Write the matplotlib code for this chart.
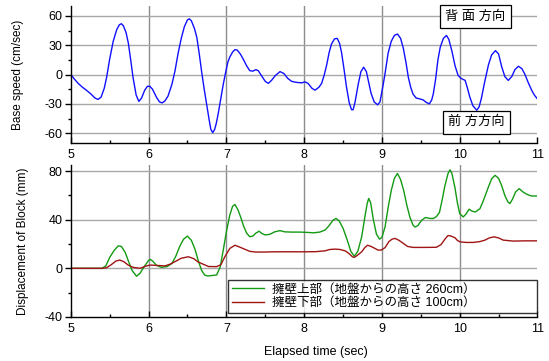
import numpy as np
import matplotlib
matplotlib.use("Agg")
import matplotlib.pyplot as plt
from matplotlib.ticker import MultipleLocator

plt.rcParams["font.family"] = ["Liberation Sans", "Noto Sans CJK JP"]
plt.rcParams["axes.unicode_minus"] = False

# base speed (top panel)
t_base = [5.00, 5.05, 5.094, 5.15, 5.20, 5.26, 5.31, 5.35, 5.39, 5.43, 5.46, 5.50, 5.545, 5.59,
          5.625, 5.65, 5.675, 5.71, 5.74, 5.77, 5.80, 5.84, 5.875, 5.91, 5.95, 5.985, 6.016,
          6.05, 6.10, 6.14, 6.175, 6.21, 6.25, 6.30, 6.34, 6.38, 6.42, 6.46, 6.50, 6.525, 6.55,
          6.59, 6.62, 6.65, 6.68, 6.715, 6.745, 6.78, 6.80, 6.825, 6.85, 6.87, 6.895, 6.93, 6.96,
          6.99, 7.02, 7.045, 7.08, 7.11, 7.14, 7.18, 7.215, 7.26, 7.30, 7.34, 7.38, 7.41, 7.45,
          7.50, 7.54, 7.58, 7.63, 7.69, 7.74, 7.79, 7.84, 7.90, 7.97, 8.01, 8.05, 8.10, 8.14,
          8.19, 8.225, 8.26, 8.29, 8.32, 8.35, 8.39, 8.425, 8.455, 8.48, 8.51, 8.545, 8.58, 8.61,
          8.63, 8.655, 8.695, 8.73, 8.765, 8.80, 8.83, 8.86, 8.90, 8.945, 8.975, 9.017, 9.04,
          9.08, 9.12, 9.16, 9.20, 9.24, 9.275, 9.31, 9.34, 9.37, 9.40, 9.44, 9.49, 9.53, 9.57,
          9.61, 9.64, 9.66, 9.69, 9.72, 9.75, 9.79, 9.83, 9.86, 9.90, 9.94, 9.98, 10.02, 10.07,
          10.10, 10.13, 10.17, 10.22, 10.25, 10.28, 10.32, 10.37, 10.41, 10.46, 10.50, 10.54,
          10.58, 10.625, 10.67, 10.71, 10.755, 10.80, 10.84, 10.88, 10.925, 10.96, 11.00]
v_base = [0, -5, -9, -13, -16, -20, -24, -25.5, -23, -14, -3, 16, 34, 46,
          51, 52, 50, 43, 32, 15, -3, -21, -27.5, -24, -16, -12, -12,
          -15, -23, -28, -29, -27, -22, -10, 4, 22, 37, 49, 56, 57, 55,
          47, 38, 22, 4, -15, -30, -47, -56, -59.5, -56, -50, -40, -24, -10,
          2, 13, 18, 23, 25.5, 25, 21, 16, 9, 4, 3.5, 5, 4, -1,
          -7, -9, -6, -1, 3, 1, -4, -7, -8, -8.5, -7.5, -9, -14, -16,
          -13, -9, 0, 10, 22, 31, 36.5, 37, 32, 23, 7, -13, -29, -36,
          -36, -28, -10, 3, 7.5, 3, -8, -19, -28, -31, -28, -10, 1,
          22, 34, 40, 41.5, 37, 27, 12, -3, -13, -20, -24, -25, -26, -28.5,
          -30, -26, -20, -5, 15, 28, 37, 40, 36, 24, 9, -1, -4, -6,
          -14, -23, -32, -36.5, -33, -24, -8, 10, 20, 24.5, 21, 8,
          -2, -6, -2, 5, 8.5, 6, 0, -8, -16, -21, -25]

# block displacement, upper part of the wall (260cm)
t_upper = [5.00, 5.40, 5.45, 5.50, 5.56, 5.61, 5.65, 5.70, 5.74, 5.79, 5.845, 5.89, 5.95, 6.00,
           6.025, 6.06, 6.10, 6.165, 6.24, 6.30, 6.35, 6.40, 6.45, 6.50, 6.55, 6.595, 6.64,
           6.68, 6.72, 6.76, 6.875, 6.92, 6.96, 7.00, 7.045, 7.08, 7.11, 7.15, 7.19, 7.22, 7.26,
           7.30, 7.34, 7.38, 7.42, 7.46, 7.50, 7.56, 7.62, 7.69, 7.75, 7.84, 7.95, 8.05, 8.12,
           8.20, 8.27, 8.32, 8.37, 8.41, 8.45, 8.50, 8.55, 8.60, 8.645, 8.69, 8.74, 8.78, 8.81,
           8.83, 8.855, 8.89, 8.93, 8.97, 9.00, 9.04, 9.08, 9.12, 9.16, 9.20, 9.24, 9.28, 9.32,
           9.36, 9.40, 9.425, 9.46, 9.51, 9.56, 9.62, 9.66, 9.70, 9.74, 9.78, 9.81, 9.85, 9.875,
           9.90, 9.94, 9.97, 10.00, 10.045, 10.08, 10.12, 10.16, 10.20, 10.26, 10.30, 10.37,
           10.41, 10.455, 10.50, 10.54, 10.58, 10.62, 10.646, 10.68, 10.72, 10.766, 10.81, 10.86,
           10.92, 11.00]
d_upper = [0, 0, 2, 9, 15, 18.5, 18, 13, 6, -2, -6.5, -4, 2, 6.5,
           7.3, 5.5, 2.5, 0.8, 1.5, 4, 10, 18, 24, 26.5, 23, 16, 6,
           -1.5, -5.5, -6.3, -5.5, 1, 15, 30, 44, 51, 52.5, 48, 41, 35, 29,
           26, 26.5, 29, 30.5, 28.5, 27.5, 28, 30, 31, 30, 29.8, 29.8, 29.5, 29.2,
           29.8, 31.5, 35, 39.5, 41, 39, 33, 24, 14, 10, 14, 26, 42, 53,
           57.5, 54, 40, 28, 24, 25.5, 34, 50, 64, 74, 78, 73, 64, 52,
           42, 35.5, 34, 35, 39.5, 41.8, 41, 41, 42.5, 46, 58, 68, 78, 81,
           78, 66, 54, 45, 42.3, 44.5, 48.6, 47, 46.3, 49, 55, 67,
           73.5, 76.5, 74, 68, 60, 54.5, 53.3, 57, 63, 65.5, 63, 61,
           59.5, 59.5]

# block displacement, lower part of the wall (100cm)
t_lower = [5.00, 5.40, 5.46, 5.52, 5.58, 5.63, 5.68, 5.737, 5.80, 5.89, 5.95, 6.016, 6.10, 6.21,
           6.28, 6.34, 6.42, 6.51, 6.58, 6.63, 6.68, 6.77, 6.875, 6.93, 6.98, 7.045, 7.11, 7.17,
           7.24, 7.30, 7.37, 7.50, 7.62, 7.80, 8.01, 8.15, 8.27, 8.33, 8.40, 8.46, 8.53, 8.58,
           8.62, 8.645, 8.68, 8.74, 8.78, 8.815, 8.86, 8.91, 8.95, 8.99, 9.04, 9.09, 9.13, 9.17,
           9.22, 9.275, 9.33, 9.40, 9.55, 9.70, 9.76, 9.81, 9.85, 9.89, 9.94, 9.97, 10.003, 10.08,
           10.175, 10.26, 10.325, 10.38, 10.44, 10.50, 10.56, 10.69, 10.85, 11.00]
d_lower = [0, 0, 0.5, 3, 6, 6.8, 5.5, 2.7, 0.8, 0, 1.5, 2.7, 2.4, 2,
           3.5, 5.5, 8.3, 9.5, 8, 5.5, 4, 1.5, 1.4, 3, 9.5, 16.4, 19, 17.5,
           15.6, 14, 13.4, 13.4, 13.6, 13.6, 13.6, 13.7, 14.4, 15.5, 15.8, 15.5, 14.3, 12,
           9.5, 9, 10.5, 13.6, 17, 19, 18, 16.4, 15, 15, 17, 22, 24, 24.6,
           23, 20.5, 18, 17.2, 17.2, 17.3, 19.5, 24, 27, 26.5, 25.1, 23, 21.8, 21.3,
           21.3, 22, 23.2, 25, 25.9, 25, 23.2, 22.4, 22.6, 22.6]

x_ticks = [5, 6, 7, 8, 9, 10, 11]
label_upper = "擁壁上部（地盤からの高さ 260cm）"
label_lower = "擁壁下部（地盤からの高さ 100cm）"

fig = plt.figure(figsize=(5.49, 3.61), dpi=100)
ax1 = fig.add_axes([0.129, 0.604, 0.850, 0.379])
ax2 = fig.add_axes([0.129, 0.122, 0.850, 0.421])


def style_axis(ax, ymaj, ymin):
    for side in ("top", "right"):
        ax.spines[side].set_visible(False)
    for side in ("left", "bottom"):
        ax.spines[side].set_linewidth(1.0)
    ax.set_xlim(5, 11)
    ax.set_xticks(x_ticks)
    ax.xaxis.set_minor_locator(MultipleLocator(0.5))
    ax.yaxis.set_major_locator(MultipleLocator(ymaj))
    ax.yaxis.set_minor_locator(MultipleLocator(ymin))
    ax.tick_params(axis="x", which="major", direction="in", length=4, width=1, pad=4, labelsize=9)
    ax.tick_params(axis="x", which="minor", direction="in", length=2.5, width=1)
    ax.tick_params(axis="y", which="major", direction="out", length=4, width=1, pad=2, labelsize=9)
    ax.tick_params(axis="y", which="minor", direction="out", length=2.5, width=1)
    for x in x_ticks[1:-1]:
        ax.axvline(x, color="#8c8c8c", lw=1.0, zorder=0)
    for y in ax.get_yticks():
        lo, hi = ax.get_ylim()
        if lo < y <= hi:
            ax.axhline(y, color="#a8a8a8", lw=1.0, zorder=0)


# top: base speed
ax1.set_ylim(-70, 70)
ax1.plot(t_base, v_base, color="#1010ff", lw=1.0)
style_axis(ax1, 30, 15)
ax1.set_ylabel("Base speed (cm/sec)", fontsize=8.5)
ax1.yaxis.set_label_coords(-0.10, 0.5)
box = dict(boxstyle="square,pad=0.4", fc="white", ec="black", lw=0.9)
ax1.text(10.2, 59.5, "背 面 方向", fontsize=9.5, ha="center", va="center", bbox=box, zorder=5)
ax1.text(10.22, -48.8, "前 方方向", fontsize=9.5, ha="center", va="center", bbox=box, zorder=5)

# bottom: displacement of block
ax2.set_ylim(-40, 85)
ax2.plot(t_upper, d_upper, color="#139a13", lw=1.0, label=label_upper)
ax2.plot(t_lower, d_lower, color="#a01414", lw=1.0, label=label_lower)
style_axis(ax2, 40, 20)
ax2.set_ylabel("Displacement of Block (mm)", fontsize=8.5)
ax2.yaxis.set_label_coords(-0.09, 0.5)
ax2.set_xlabel("Elapsed time (sec)", fontsize=9)
ax2.xaxis.set_label_coords(0.525, -0.19)

leg = ax2.legend(loc="lower left", bbox_to_anchor=(0.337, 0.026, 0.663, 0.217), mode="expand",
                 fontsize=9, frameon=True, fancybox=False, handlelength=2.6,
                 handletextpad=0.6, borderpad=0.3, labelspacing=0.12, borderaxespad=0)
leg.get_frame().set_edgecolor("black")
leg.get_frame().set_linewidth(1.0)

fig.savefig("out.png", dpi=100)
